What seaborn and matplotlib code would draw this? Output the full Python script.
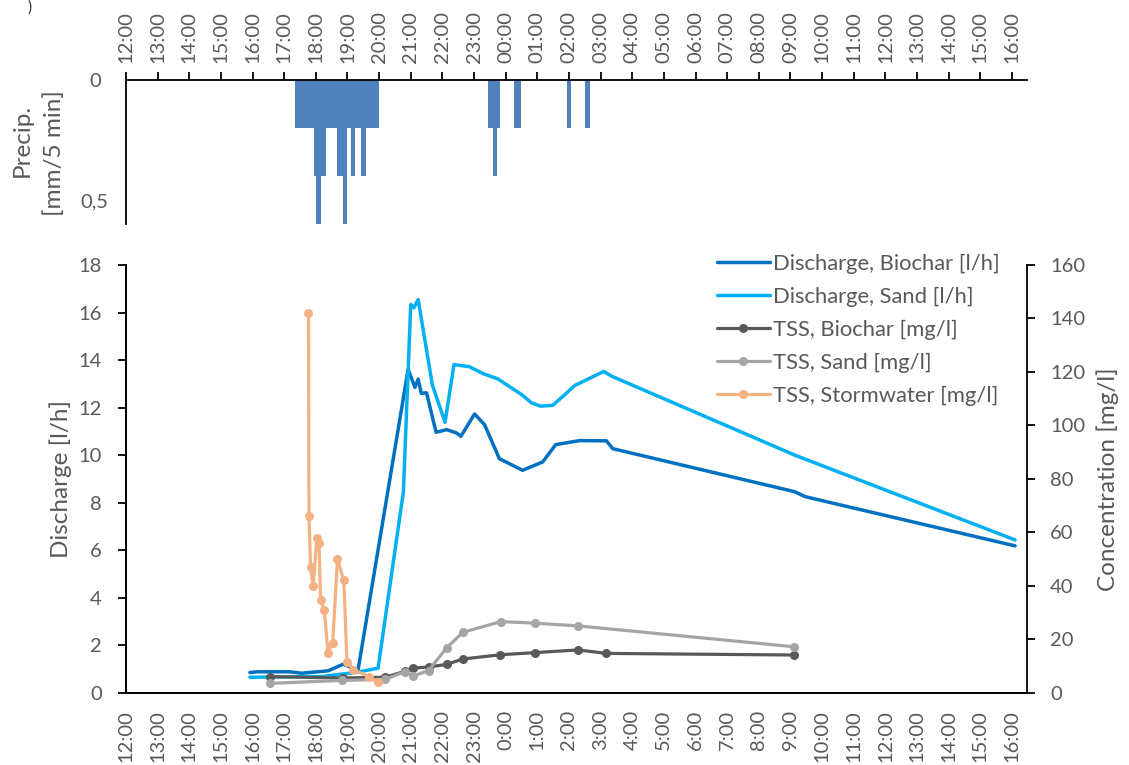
import numpy as np
import matplotlib
matplotlib.use("Agg")
import matplotlib.pyplot as plt
import seaborn as sns

# ---------------------------------------------------------------------------
# Data (time stamps as "day HH:MM", day 1 = start of the event)
# ---------------------------------------------------------------------------
precip_time = ["1 17:25", "1 17:30", "1 17:35", "1 17:40", "1 17:45", "1 17:50",
               "1 17:55", "1 18:00", "1 18:05", "1 18:10", "1 18:15", "1 18:20",
               "1 18:25", "1 18:30", "1 18:35", "1 18:40", "1 18:45", "1 18:50",
               "1 18:55", "1 19:00", "1 19:05", "1 19:10", "1 19:15", "1 19:20",
               "1 19:25", "1 19:30", "1 19:35", "1 19:40", "1 19:45", "1 19:50",
               "1 19:55", "1 23:30", "1 23:35", "1 23:40", "1 23:45", "2 00:20",
               "2 00:25", "2 02:00", "2 02:35"]
precip_mm = [0.2, 0.2, 0.2, 0.2, 0.2, 0.2,
             0.2, 0.4, 0.6, 0.4, 0.4, 0.2,
             0.2, 0.2, 0.2, 0.2, 0.4, 0.4,
             0.6, 0.2, 0.2, 0.4, 0.2, 0.2,
             0.2, 0.4, 0.2, 0.2, 0.2, 0.2,
             0.2, 0.2, 0.2, 0.4, 0.2, 0.2,
             0.2, 0.2, 0.2]

q_biochar_time = ["1 15:55", "1 16:10", "1 17:10", "1 17:33", "1 18:23", "1 18:52",
                  "1 19:20", "1 20:55", "1 21:08", "1 21:14", "1 21:20", "1 21:30",
                  "1 21:48", "1 22:08", "1 22:27", "1 22:35", "1 23:01", "1 23:20",
                  "1 23:48", "2 00:32", "2 01:10", "2 01:35", "2 02:20", "2 03:11",
                  "2 03:23", "2 09:08", "2 09:28", "2 16:06"]
q_biochar = [0.85, 0.88, 0.88, 0.82, 0.92, 1.2,
             0.95, 13.6, 12.85, 13.2, 12.6, 12.62,
             10.96, 11.07, 10.93, 10.79, 11.73, 11.28,
             9.85, 9.36, 9.71, 10.44, 10.61, 10.6,
             10.27, 8.46, 8.25, 6.18]

q_sand_time = ["1 15:55", "1 18:10", "1 19:15", "1 19:58", "1 20:46", "1 21:00",
               "1 21:06", "1 21:14", "1 21:41", "1 22:05", "1 22:22", "1 22:51",
               "1 23:17", "1 23:45", "2 00:08", "2 00:30", "2 00:49", "2 01:06",
               "2 01:29", "2 01:49", "2 02:11", "2 03:06", "2 03:21", "2 09:08",
               "2 16:06"]
q_sand = [0.65, 0.68, 0.85, 1.03, 8.45, 16.34,
          16.2, 16.55, 12.95, 11.38, 13.81, 13.72,
          13.43, 13.21, 12.87, 12.55, 12.2, 12.06,
          12.09, 12.48, 12.93, 13.52, 13.32, 10.0,
          6.43]

tss_biochar_time = ["1 16:33", "1 18:51", "1 20:12", "1 20:49", "1 21:04", "1 21:34",
                    "1 22:08", "1 22:39", "1 23:50", "2 00:56", "2 02:17", "2 03:11",
                    "2 09:06"]
tss_biochar = [6.0, 5.5, 5.8, 8.0, 9.2, 9.6,
               10.6, 12.6, 14.2, 15.0, 16.0, 14.7,
               14.1]

tss_sand_time = ["1 16:34", "1 18:50", "1 20:12", "1 20:49", "1 21:04", "1 21:34",
                 "1 22:08", "1 22:39", "1 23:51", "2 00:56", "2 02:17", "2 09:06"]
tss_sand = [3.5, 4.6, 5.0, 7.9, 6.2, 8.3,
            16.8, 22.6, 26.6, 26.0, 25.0, 17.2]

tss_storm_time = ["1 17:46", "1 17:47", "1 17:50", "1 17:55", "1 18:02", "1 18:06",
                  "1 18:09", "1 18:16", "1 18:23", "1 18:32", "1 18:41", "1 18:53",
                  "1 18:59", "1 19:11", "1 19:41", "1 19:58"]
tss_storm = [142.0, 66.0, 47.0, 40.0, 58.0, 56.0,
             34.5, 31.0, 15.0, 18.7, 50.0, 42.0,
             11.6, 8.6, 6.0, 3.9]

hour_ticks = list(range(12, 41))          # 12:00 on day 1 .. 16:00 on day 2
top_tick_labels = [f"{h % 24:02d}:00" for h in hour_ticks]
bottom_tick_labels = [f"{h % 24}:00" for h in hour_ticks]


def to_hours(stamps):
    """Convert 'day HH:MM' stamps to hours after midnight of day 1."""
    out = []
    for s in stamps:
        day, hm = s.split()
        h, m = hm.split(":")
        out.append((int(day) - 1) * 24 + int(h) + int(m) / 60)
    return np.array(out)


# ---------------------------------------------------------------------------
# Style
# ---------------------------------------------------------------------------
sns.set_theme(style="white")
plt.rcParams["font.family"] = ["Lato", "DejaVu Sans"]
TXT = "#595959"
FS = 14.5          # tick labels
FS_T = 17.5        # axis titles
FS_L = 15.8        # legend
plt.rcParams.update({
    "axes.edgecolor": "black",
    "axes.linewidth": 1.3,
    "xtick.color": "black",
    "ytick.color": "black",
    "xtick.labelcolor": TXT,
    "ytick.labelcolor": TXT,
    "xtick.labelsize": FS,
    "ytick.labelsize": FS,
    "xtick.major.width": 1.3,
    "ytick.major.width": 1.3,
})

C_QB = "#0070C0"
C_QS = "#00B0F0"
C_TB = "#595959"
C_TS = "#A5A5A5"
C_TW = "#F4B183"
C_P = "#4F81BD"

W, H = 1129, 765
fig = plt.figure(figsize=(W / 100, H / 100), dpi=100)
x0, x1 = 126, 1027
ax_p = fig.add_axes([x0 / W, 1 - 224 / H, (x1 - x0) / W, (224 - 80) / H])
ax = fig.add_axes([x0 / W, 1 - 692.7 / H, (x1 - x0) / W, (692.7 - 265) / H])
ax2 = ax.twinx()

xmin, xmax = 12, 12 + (x1 - x0) / 31.64

# ---------------------------------------------------------------------------
# Precipitation panel
# ---------------------------------------------------------------------------
ax_p.bar(to_hours(precip_time), precip_mm, width=8.5 / 60, color=C_P,
         linewidth=0, align="center")
ax_p.set_xlim(xmin, xmax)
ax_p.set_ylim(0.6, 0)
ax_p.set_yticks(np.round(np.arange(0, 0.61, 0.1), 1))
ax_p.set_yticklabels(["0", "", "", "", "", "0,5", ""])
for lab in ax_p.get_yticklabels():
    lab.set_horizontalalignment("center")
ax_p.xaxis.tick_top()
ax_p.set_xticks(hour_ticks)
ax_p.set_xticklabels(top_tick_labels, rotation=90)
ax_p.tick_params(axis="x", direction="out", length=5.5, pad=7)
ax_p.tick_params(axis="y", direction="out", length=5.5, pad=17)
for side in ("right", "bottom"):
    ax_p.spines[side].set_visible(False)

# two-line axis title of the precipitation panel
fig.text(22 / W, 1 - 140 / H, "Precip.", rotation=90, ha="center", va="center",
         color=TXT, fontsize=FS_T)
fig.text(54 / W, 1 - 153.5 / H, "[mm/5 min]", rotation=90, ha="center",
         va="center", color=TXT, fontsize=FS_T)

# ---------------------------------------------------------------------------
# Discharge and TSS panel
# ---------------------------------------------------------------------------
sns.lineplot(x=to_hours(q_biochar_time), y=q_biochar, ax=ax, color=C_QB,
             lw=2.5, estimator=None, sort=False, label="Discharge, Biochar [l/h]")
sns.lineplot(x=to_hours(q_sand_time), y=q_sand, ax=ax, color=C_QS,
             lw=2.5, estimator=None, sort=False, label="Discharge, Sand [l/h]")

mk = dict(marker="o", markersize=6.5, markeredgewidth=0, lw=2.3,
          estimator=None, sort=False)
sns.lineplot(x=to_hours(tss_biochar_time), y=tss_biochar, ax=ax2, color=C_TB,
             markerfacecolor=C_TB, label="TSS, Biochar [mg/l]", **mk)
sns.lineplot(x=to_hours(tss_sand_time), y=tss_sand, ax=ax2, color=C_TS,
             markerfacecolor=C_TS, label="TSS, Sand [mg/l]", **mk)
sns.lineplot(x=to_hours(tss_storm_time), y=tss_storm, ax=ax2, color=C_TW,
             markerfacecolor=C_TW, label="TSS, Stormwater [mg/l]", **mk)

ax.set_xlim(xmin, xmax)
ax.set_ylim(0, 18)
ax.set_yticks(range(0, 19, 2))
ax2.set_ylim(0, 160)
ax2.set_yticks(range(0, 161, 20))
ax.set_xticks(hour_ticks)
ax.set_xticklabels(bottom_tick_labels, rotation=90)
ax.tick_params(axis="x", direction="out", length=5.5, pad=7)
ax.tick_params(axis="y", direction="out", length=5.5, pad=12)
ax2.tick_params(axis="y", direction="out", length=5.5, pad=11)
for a in (ax, ax2):
    a.spines["top"].set_visible(False)
ax.spines["right"].set_visible(False)
ax.set_ylabel("Discharge [l/h]", color=TXT, fontsize=FS_T)
ax2.set_ylabel("Concentration [mg/l]", color=TXT, fontsize=FS_T)
ax.yaxis.set_label_coords((72 - x0) / (x1 - x0), 0.5)
ax2.yaxis.set_label_coords((1096 - x0) / (x1 - x0), 0.5)

h1, l1 = ax.get_legend_handles_labels()
h2, l2 = ax2.get_legend_handles_labels()
ax.get_legend().remove()
ax2.get_legend().remove()
ax2.legend(h1 + h2, l1 + l2, loc="upper left",
           bbox_to_anchor=(717 / W, 1 - 254 / H), bbox_transform=fig.transFigure,
           frameon=False, fontsize=FS_L, labelcolor=TXT, handlelength=2.4,
           handletextpad=0.15, labelspacing=0.58, borderpad=0, borderaxespad=0)

# corner of the panel tag
fig.text(30 / W, 1.0, ")", ha="center", va="top", fontsize=11, color="#262626")

fig.savefig("out.png", dpi=100)
